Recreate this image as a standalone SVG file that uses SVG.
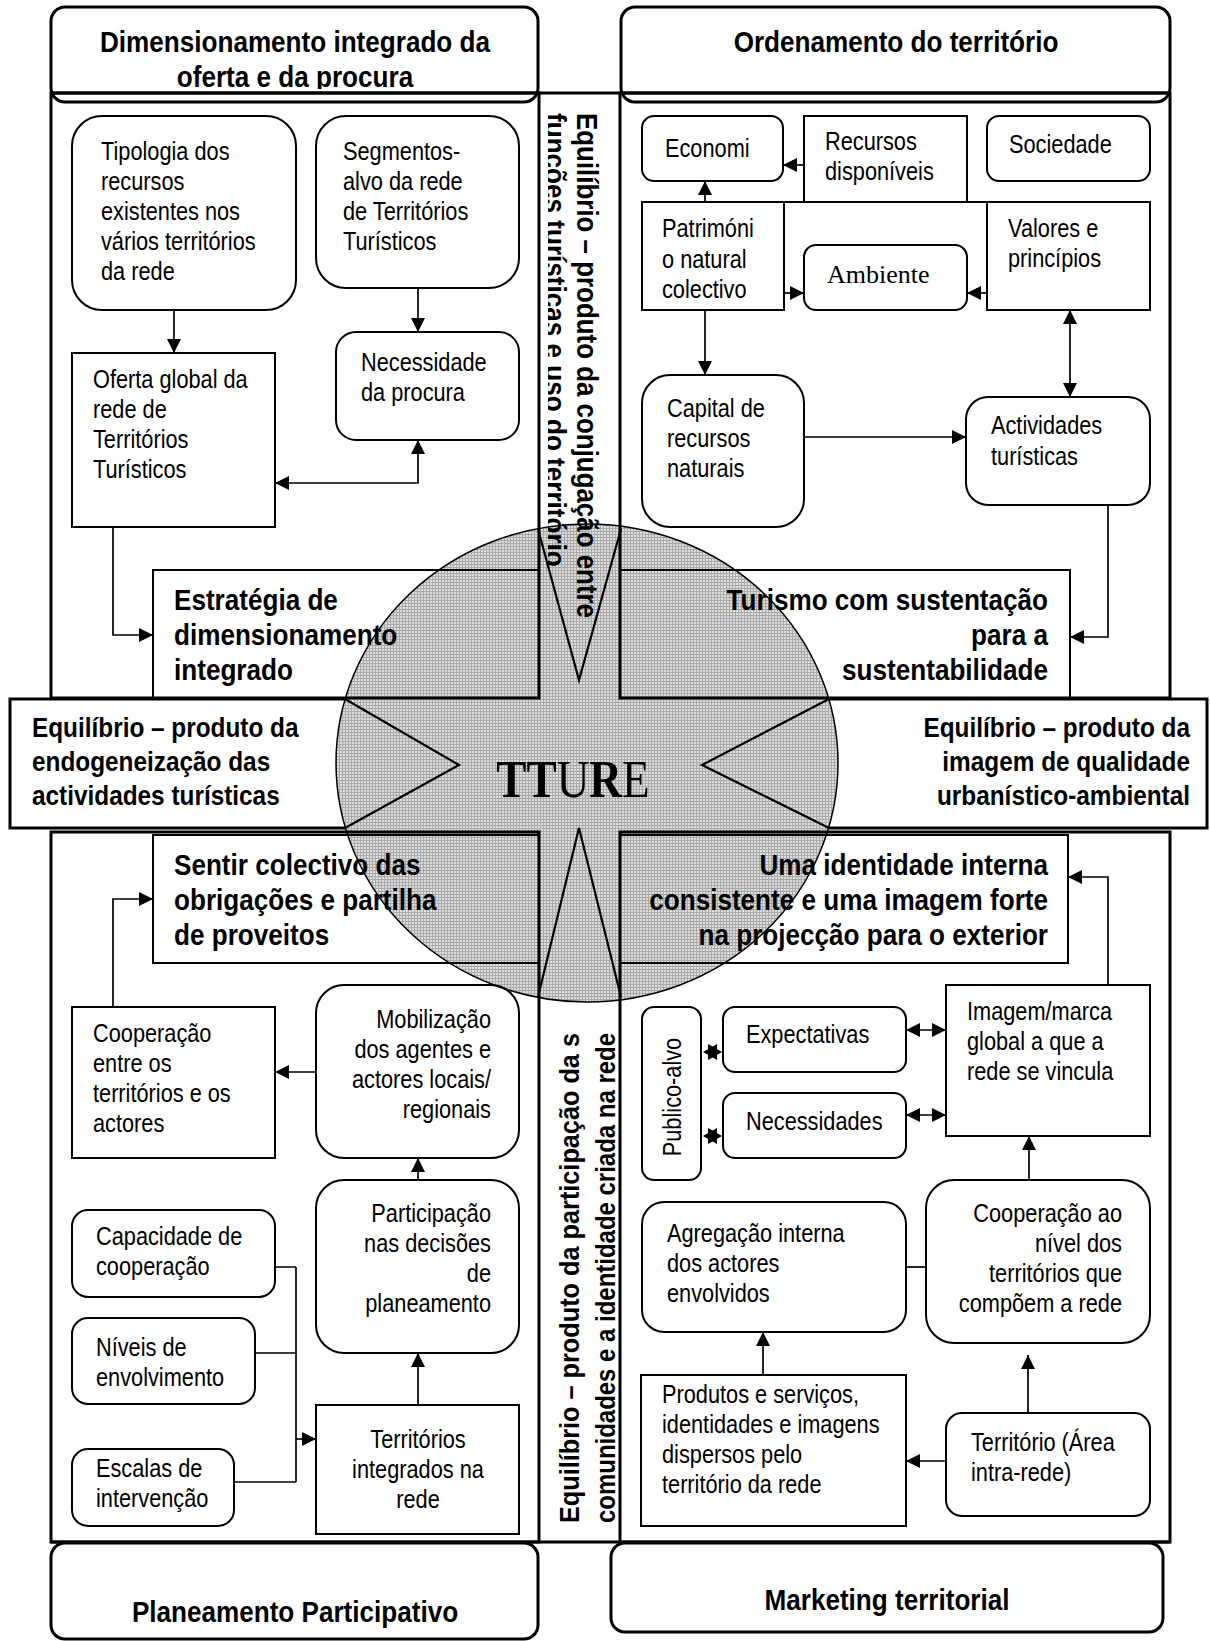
<svg xmlns="http://www.w3.org/2000/svg" width="1210" height="1641" viewBox="0 0 1210 1641">
<defs>
<style>
.f{fill:none;stroke:#000;stroke-width:3}
.b{fill:none;stroke:#000;stroke-width:2}
.c{fill:none;stroke:#000;stroke-width:1.7}
.s{fill:none;stroke:#000;stroke-width:2.2}
text{font-family:"Liberation Sans",Arial,Helvetica,sans-serif;fill:#000}
.t{font-size:25px}
.h{font-size:30px;font-weight:bold}
.m{font-size:28px;font-weight:bold}
.e{text-anchor:end}
.mid{text-anchor:middle}
</style>
<pattern id="grid" width="3" height="3" patternUnits="userSpaceOnUse"><rect width="3" height="3" fill="#dedede"/><path d="M0,0.5H3M0.5,0V3" stroke="#a9a9a9" stroke-width="1"/></pattern>
<marker id="a" viewBox="0 0 10 10" refX="10" refY="5" markerWidth="14" markerHeight="14" markerUnits="userSpaceOnUse" orient="auto-start-reverse"><path d="M0,0L10,5L0,10z"/></marker>
<clipPath id="ch"><rect x="40" y="0" width="510" height="89"/></clipPath>
<clipPath id="cv"><rect x="548" y="94" width="72" height="606"/></clipPath>
</defs>
<rect width="1210" height="1641" fill="#fff"/>

<g id="centre-disc">
<ellipse cx="587" cy="763" rx="251" ry="239" fill="url(#grid)" stroke="#000" stroke-width="1.5"/>
</g>

<g id="frames">
<rect class="f" x="51" y="93" width="488" height="605"/>
<rect class="f" x="620" y="93" width="550" height="605"/>
<rect class="f" x="51" y="832" width="488" height="710"/>
<rect class="f" x="620" y="832" width="550" height="710"/>
<line class="f" x1="51" y1="93" x2="1170" y2="93"/>
<line class="f" x1="51" y1="1542" x2="1170" y2="1542"/>
</g>

<g id="hdr-dimensionamento">
<rect class="f" x="51" y="7" width="487" height="95" rx="14"/>
<g clip-path="url(#ch)"><text class="h mid" transform="translate(295 0) scale(.87 1)"><tspan x="0" y="52">Dimensionamento integrado da</tspan><tspan x="0" y="87">oferta e da procura</tspan></text></g>
</g>
<g id="hdr-ordenamento">
<rect class="f" x="621" y="7" width="549" height="95" rx="14"/>
<text class="h mid" transform="translate(896 0) scale(.87 1)"><tspan x="0" y="52">Ordenamento do território</tspan></text>
</g>
<g id="hdr-planeamento">
<rect class="f" x="51" y="1543" width="487" height="96" rx="14"/>
<text class="h mid" transform="translate(295 0) scale(.87 1)"><tspan x="0" y="1622">Planeamento Participativo</tspan></text>
</g>
<g id="hdr-marketing">
<rect class="f" x="611" y="1543" width="552" height="89" rx="14"/>
<text class="h mid" transform="translate(887 0) scale(.87 1)"><tspan x="0" y="1610">Marketing territorial</tspan></text>
</g>

<g id="band-left">
<path class="f" d="M345,699H10V828H345"/>
<text class="m" transform="translate(32 0) scale(.87 1)"><tspan x="0" y="737">Equilíbrio – produto da</tspan><tspan x="0" y="771">endogeneização das</tspan><tspan x="0" y="805">actividades turísticas</tspan></text>
</g>
<g id="band-right">
<path class="f" d="M829,699H1207V828H829"/>
<text class="m e" transform="translate(1190 0) scale(.87 1)"><tspan x="0" y="737">Equilíbrio – produto da</tspan><tspan x="0" y="771">imagem de qualidade</tspan><tspan x="0" y="805">urbanístico-ambiental</tspan></text>
</g>

<g id="col-top">
<g clip-path="url(#cv)">
<text class="h" transform="translate(577 113) rotate(90)" textLength="505" lengthAdjust="spacingAndGlyphs">Equilíbrio – produto da conjugação entre</text>
<text class="h" transform="translate(545 113) rotate(90) scale(.87 1)">funções turísticas e uso do território</text>
</g>
</g>
<g id="col-bottom">
<text class="m" transform="translate(579 1523) rotate(-90)" textLength="490" lengthAdjust="spacingAndGlyphs">Equilíbrio – produto da participação da s</text>
<text class="m" transform="translate(615 1523) rotate(-90)" textLength="490" lengthAdjust="spacingAndGlyphs">comunidades e a identidade criada na rede</text>
</g>

<g id="estrategia">
<rect class="b" x="153" y="570" width="386" height="128"/>
<text class="h" transform="translate(174 0) scale(.87 1)"><tspan x="0" y="610">Estratégia de</tspan><tspan x="0" y="645">dimensionamento</tspan><tspan x="0" y="680">integrado</tspan></text>
</g>
<g id="turismo">
<rect class="b" x="620" y="570" width="450" height="128"/>
<text class="h e" transform="translate(1048 0) scale(.87 1)"><tspan x="0" y="610">Turismo com sustentação</tspan><tspan x="0" y="645">para a</tspan><tspan x="0" y="680">sustentabilidade</tspan></text>
</g>
<g id="sentir">
<rect class="b" x="153" y="835" width="386" height="128"/>
<text class="h" transform="translate(174 0) scale(.87 1)"><tspan x="0" y="875">Sentir colectivo das</tspan><tspan x="0" y="910">obrigações e partilha</tspan><tspan x="0" y="945">de proveitos</tspan></text>
</g>
<g id="identidade">
<rect class="b" x="620" y="835" width="448" height="128"/>
<text class="h e" transform="translate(1048 0) scale(.87 1)"><tspan x="0" y="875">Uma identidade interna</tspan><tspan x="0" y="910">consistente e uma imagem forte</tspan><tspan x="0" y="945">na projecção para o exterior</tspan></text>
</g>

<g id="tipologia">
<rect class="b" x="72" y="116" width="224" height="194" rx="30"/>
<text class="t" transform="translate(101 0) scale(.87 1)"><tspan x="0" y="160">Tipologia dos</tspan><tspan x="0" y="190">recursos</tspan><tspan x="0" y="220">existentes nos</tspan><tspan x="0" y="250">vários territórios</tspan><tspan x="0" y="280">da rede</tspan></text>
</g>
<g id="segmentos">
<rect class="b" x="316" y="116" width="203" height="172" rx="30"/>
<text class="t" transform="translate(343 0) scale(.87 1)"><tspan x="0" y="160">Segmentos-</tspan><tspan x="0" y="190">alvo da rede</tspan><tspan x="0" y="220">de Territórios</tspan><tspan x="0" y="250">Turísticos</tspan></text>
</g>
<g id="oferta">
<rect class="b" x="72" y="353" width="203" height="174"/>
<text class="t" transform="translate(93 0) scale(.87 1)"><tspan x="0" y="388">Oferta global da</tspan><tspan x="0" y="418">rede de</tspan><tspan x="0" y="448">Territórios</tspan><tspan x="0" y="478">Turísticos</tspan></text>
</g>
<g id="necessidade">
<rect class="b" x="336" y="332" width="183" height="108" rx="20"/>
<text class="t" transform="translate(361 0) scale(.87 1)"><tspan x="0" y="371">Necessidade</tspan><tspan x="0" y="401">da procura</tspan></text>
</g>

<g id="economi">
<rect class="b" x="642" y="116" width="141" height="65" rx="12"/>
<text class="t" transform="translate(665 0) scale(.87 1)"><tspan x="0" y="157">Economi</tspan></text>
</g>
<g id="recursos">
<rect class="b" x="804" y="116" width="163" height="86"/>
<text class="t" transform="translate(825 0) scale(.87 1)"><tspan x="0" y="150">Recursos</tspan><tspan x="0" y="180">disponíveis</tspan></text>
</g>
<g id="sociedade">
<rect class="b" x="987" y="116" width="163" height="65" rx="12"/>
<text class="t" transform="translate(1009 0) scale(.87 1)"><tspan x="0" y="153">Sociedade</tspan></text>
</g>
<g id="patrimonio">
<rect class="b" x="642" y="202" width="142" height="108"/>
<text class="t" transform="translate(662 0) scale(.87 1)"><tspan x="0" y="237">Patrimóni</tspan><tspan x="0" y="268">o natural</tspan><tspan x="0" y="298">colectivo</tspan></text>
</g>
<g id="valores">
<rect class="b" x="987" y="202" width="163" height="108"/>
<text class="t" transform="translate(1008 0) scale(.87 1)"><tspan x="0" y="237">Valores e</tspan><tspan x="0" y="267">princípios</tspan></text>
</g>
<g id="ambiente">
<rect class="b" x="804" y="245" width="163" height="65" rx="12"/>
<text x="827" y="283" style="font-family:'Liberation Serif','Times New Roman',serif;font-size:26px">Ambiente</text>
</g>
<g id="capital">
<rect class="b" x="642" y="375" width="162" height="152" rx="28"/>
<text class="t" transform="translate(667 0) scale(.87 1)"><tspan x="0" y="417">Capital de</tspan><tspan x="0" y="447">recursos</tspan><tspan x="0" y="477">naturais</tspan></text>
</g>
<g id="actividades">
<rect class="b" x="966" y="397" width="184" height="108" rx="22"/>
<text class="t" transform="translate(991 0) scale(.87 1)"><tspan x="0" y="434">Actividades</tspan><tspan x="0" y="465">turísticas</tspan></text>
</g>

<g id="cooperacao-entre">
<rect class="b" x="72" y="1007" width="203" height="151"/>
<text class="t" transform="translate(93 0) scale(.87 1)"><tspan x="0" y="1042">Cooperação</tspan><tspan x="0" y="1072">entre os</tspan><tspan x="0" y="1102">territórios e os</tspan><tspan x="0" y="1132">actores</tspan></text>
</g>
<g id="mobilizacao">
<rect class="b" x="316" y="985" width="203" height="173" rx="28"/>
<text class="t e" transform="translate(491 0) scale(.87 1)"><tspan x="0" y="1028">Mobilização</tspan><tspan x="0" y="1058">dos agentes e</tspan><tspan x="0" y="1088">actores locais/</tspan><tspan x="0" y="1118">regionais</tspan></text>
</g>
<g id="participacao">
<rect class="b" x="316" y="1180" width="203" height="173" rx="28"/>
<text class="t e" transform="translate(491 0) scale(.87 1)"><tspan x="0" y="1222">Participação</tspan><tspan x="0" y="1252">nas decisões</tspan><tspan x="0" y="1282">de</tspan><tspan x="0" y="1312">planeamento</tspan></text>
</g>
<g id="capacidade">
<rect class="b" x="72" y="1210" width="203" height="87" rx="16"/>
<text class="t" transform="translate(96 0) scale(.87 1)"><tspan x="0" y="1245">Capacidade de</tspan><tspan x="0" y="1275">cooperação</tspan></text>
</g>
<g id="niveis">
<rect class="b" x="72" y="1318" width="183" height="86" rx="16"/>
<text class="t" transform="translate(96 0) scale(.87 1)"><tspan x="0" y="1356">Níveis de</tspan><tspan x="0" y="1386">envolvimento</tspan></text>
</g>
<g id="escalas">
<rect class="b" x="72" y="1449" width="162" height="77" rx="16"/>
<text class="t" transform="translate(96 0) scale(.87 1)"><tspan x="0" y="1477">Escalas de</tspan><tspan x="0" y="1507">intervenção</tspan></text>
</g>
<g id="territorios-integrados">
<rect class="b" x="316" y="1405" width="203" height="129"/>
<text class="t mid" transform="translate(418 0) scale(.87 1)"><tspan x="0" y="1448">Territórios</tspan><tspan x="0" y="1478">integrados na</tspan><tspan x="0" y="1508">rede</tspan></text>
</g>

<g id="publico-alvo">
<rect class="b" x="642" y="1007" width="59" height="173" rx="12"/>
<text class="t mid" transform="translate(681 1097) rotate(-90) scale(.87 1)">Publico-alvo</text>
</g>
<g id="expectativas">
<rect class="b" x="723" y="1007" width="183" height="65" rx="12"/>
<text class="t" transform="translate(746 0) scale(.87 1)"><tspan x="0" y="1043">Expectativas</tspan></text>
</g>
<g id="necessidades">
<rect class="b" x="723" y="1093" width="183" height="65" rx="12"/>
<text class="t" transform="translate(746 0) scale(.87 1)"><tspan x="0" y="1130">Necessidades</tspan></text>
</g>
<g id="imagem">
<rect class="b" x="946" y="985" width="204" height="151"/>
<text class="t" transform="translate(967 0) scale(.87 1)"><tspan x="0" y="1020">Imagem/marca</tspan><tspan x="0" y="1050">global a que a</tspan><tspan x="0" y="1080">rede se vincula</tspan></text>
</g>
<g id="agregacao">
<rect class="b" x="642" y="1202" width="264" height="130" rx="22"/>
<text class="t" transform="translate(667 0) scale(.87 1)"><tspan x="0" y="1242">Agregação interna</tspan><tspan x="0" y="1272">dos actores</tspan><tspan x="0" y="1302">envolvidos</tspan></text>
</g>
<g id="cooperacao-nivel">
<rect class="b" x="926" y="1180" width="224" height="163" rx="28"/>
<text class="t e" transform="translate(1122 0) scale(.87 1)"><tspan x="0" y="1222">Cooperação ao</tspan><tspan x="0" y="1252">nível dos</tspan><tspan x="0" y="1282">territórios que</tspan><tspan x="0" y="1312">compõem a rede</tspan></text>
</g>
<g id="produtos">
<rect class="b" x="641" y="1375" width="265" height="151"/>
<text class="t" transform="translate(662 0) scale(.87 1)"><tspan x="0" y="1403">Produtos e serviços,</tspan><tspan x="0" y="1433">identidades e imagens</tspan><tspan x="0" y="1463">dispersos pelo</tspan><tspan x="0" y="1493">território da rede</tspan></text>
</g>
<g id="territorio-area">
<rect class="b" x="946" y="1413" width="204" height="103" rx="16"/>
<text class="t" transform="translate(971 0) scale(.87 1)"><tspan x="0" y="1451">Território (Área</tspan><tspan x="0" y="1481">intra-rede)</tspan></text>
</g>

<g id="connectors">
<path class="c" d="M174,310V353" marker-end="url(#a)"/>
<path class="c" d="M418,288V332" marker-end="url(#a)"/>
<path class="c" d="M275,483H418V440" marker-start="url(#a)" marker-end="url(#a)"/>
<path class="c" d="M113,527V635H153" marker-end="url(#a)"/>
<path class="c" d="M804,165H783" marker-end="url(#a)"/>
<path class="c" d="M705,202V181" marker-end="url(#a)"/>
<path class="b" d="M784,202H987"/>
<path class="c" d="M784,293H804" marker-end="url(#a)"/>
<path class="c" d="M987,293H967" marker-end="url(#a)"/>
<path class="c" d="M705,310V375" marker-end="url(#a)"/>
<path class="c" d="M1070,310V397" marker-start="url(#a)" marker-end="url(#a)"/>
<path class="c" d="M804,437H966" marker-end="url(#a)"/>
<path class="c" d="M1108,505V637H1070" marker-end="url(#a)"/>
<path class="c" d="M113,1007V899H153" marker-end="url(#a)"/>
<path class="c" d="M316,1072H275" marker-end="url(#a)"/>
<path class="c" d="M418,1180V1158" marker-end="url(#a)"/>
<path class="c" d="M418,1405V1353" marker-end="url(#a)"/>
<path class="c" d="M275,1267H296M255,1353H296M234,1482H296M296,1267V1482"/>
<path class="c" d="M296,1439H316" marker-end="url(#a)"/>
<path class="c" d="M1108,985V877H1068" marker-end="url(#a)"/>
<path class="c" d="M906,1030H946" marker-start="url(#a)" marker-end="url(#a)"/>
<path class="c" d="M906,1115H946" marker-start="url(#a)" marker-end="url(#a)"/>
<path d="M703,1052L717,1044V1060Z"/>
<path d="M722,1052L708,1044V1060Z"/>
<path d="M703,1136L717,1128V1144Z"/>
<path d="M722,1136L708,1128V1144Z"/>
<path class="c" d="M1029,1180V1136" marker-end="url(#a)"/>
<path class="c" d="M906,1267H926"/>
<path class="c" d="M763,1375V1332" marker-end="url(#a)"/>
<path class="c" d="M1028,1413V1355" marker-end="url(#a)"/>
<path class="c" d="M946,1461H906" marker-end="url(#a)"/>
</g>

<g id="star">
<path class="s" d="M345,699L459,765L345,828"/>
<path class="s" d="M829,699L702,765L829,828"/>
<path class="s" d="M538,529L579,680L621,529"/>
<path class="s" d="M538,997L579,828L621,997"/>
</g>

<g id="tture">
<text transform="translate(573 797) scale(.87 1)" text-anchor="middle" style="font-family:'Liberation Serif','Times New Roman',serif;font-size:52px"><tspan font-weight="bold">TT</tspan><tspan>U</tspan><tspan font-weight="bold">R</tspan><tspan>E</tspan></text>
</g>
</svg>
